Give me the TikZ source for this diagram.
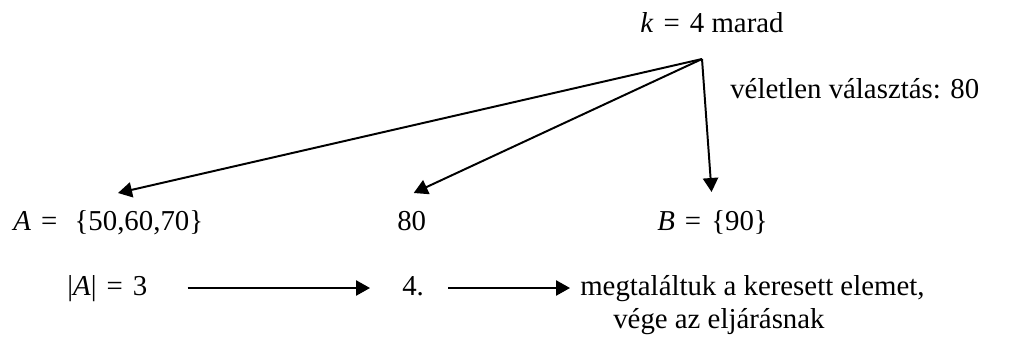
\documentclass[tikz,border=0pt]{standalone}
\usepackage{fontspec}
\setmainfont{Liberation Serif}
\usetikzlibrary{arrows.meta,calc}

\newcommand{\eqsign}{\hspace{0.35em}=\hspace{0.35em}}

\begin{document}
\begin{tikzpicture}[x=0.025cm,y=0.025cm,
  every node/.style={inner sep=0pt,font=\fontsize{20.5}{24}\selectfont},
  lbl/.style={anchor=base west},
  arr/.style={-{Triangle[length=0.35cm,width=0.38cm]},line width=1.4pt}]
  \useasboundingbox (0,0) rectangle (1010,345);

  % felso szint
  \node[lbl] (k) at (640,313) {\textit{k}\eqsign 4 marad};
  \coordinate (fork) at (702,286);
  \node[lbl] (vel) at (730,247) {véletlen választás: 80};

  % a harom resz
  \node[lbl] (a) at (13,115) {\textit{A}\eqsign\ \{50,60,70\}};
  \node[lbl] (m) at (397,115) {80};
  \node[lbl] (b) at (657,115) {\textit{B}\eqsign\{90\}};

  \draw[arr] (fork) -- ($(a.base west)+(105,37)$);
  \draw[arr] (fork) -- ($(m.base)+(2,37)$);
  \draw[arr] (fork) -- ($(b.base)+(-1,38)$);

  % also sor
  \node[lbl] (abs) at (67,50) {|\textit{A}|\eqsign 3};
  \node[lbl] (four) at (402,50) {4.};
  \node[lbl] (end) at (580,50) {megtaláltuk a keresett elemet,};
  \node[lbl] (endb) at (613,17) {vége az eljárásnak};

  \draw[arr] ([shift={(40,7)}]abs.base east) -- ([shift={(-32,7)}]four.base west);
  \draw[arr] ([shift={(24,7)}]four.base east) -- ([shift={(-10,7)}]four.base -| end.west);
\end{tikzpicture}
\end{document}
